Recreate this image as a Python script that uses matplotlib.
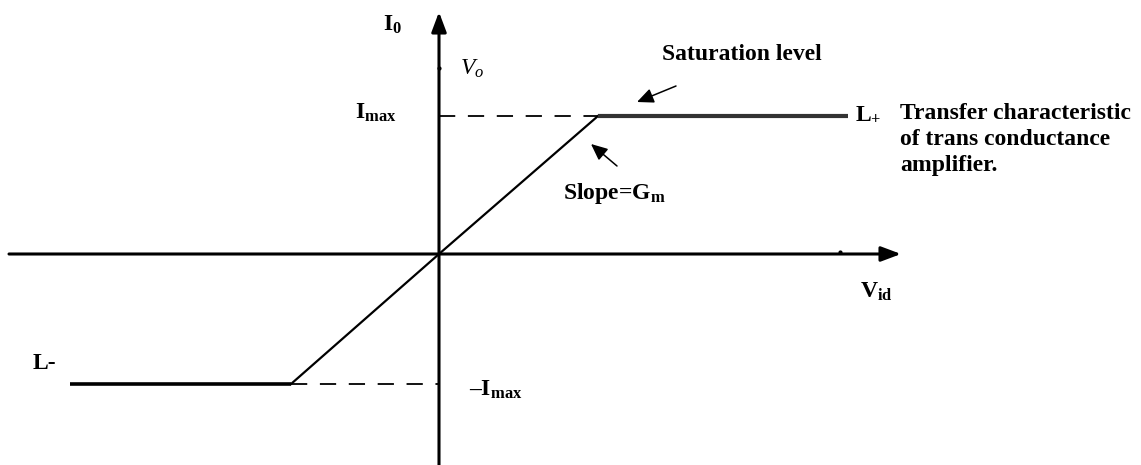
import matplotlib
matplotlib.use("Agg")
import matplotlib.pyplot as plt

# Transfer characteristic (data units ~ pixels relative to origin)
vid = [-369, -148, 0, 159, 409]
io = [-130, -130, 0, 138, 138]
i_max = 138
i_min = -130
v_corner_pos = 159
v_corner_neg = -148

plt.rcParams['mathtext.fontset'] = 'custom'
plt.rcParams['mathtext.rm'] = 'Liberation Serif:bold'
plt.rcParams['mathtext.bf'] = 'Liberation Serif:bold'
plt.rcParams['mathtext.it'] = 'Liberation Serif:italic'

fig = plt.figure(figsize=(11.41, 4.65), dpi=100)
ax = fig.add_axes([0, 0, 1, 1])
ax.set_xlim(-439, 702)
ax.set_ylim(-211, 254)
ax.axis('off')

serif = 'Liberation Serif'
FS = 17

# axes with arrows
ax.annotate('', xy=(462, 0), xytext=(-430, 0),
            arrowprops=dict(arrowstyle='-|>,head_length=1.2,head_width=0.45', lw=2.2, color='black',
                            shrinkA=0, shrinkB=0))
ax.annotate('', xy=(0, 242), xytext=(0, -215),
            arrowprops=dict(arrowstyle='-|>,head_length=1.2,head_width=0.45', lw=2.2, color='black',
                            shrinkA=0, shrinkB=0))

# characteristic
ax.plot(vid[:2], io[:2], color='black', lw=2.6, solid_capstyle='butt')
ax.plot(vid[1:4], io[1:4], color='black', lw=1.6)
ax.plot(vid[3:], io[3:], color='#333333', lw=3.0, solid_capstyle='butt')

# dashed guides
ax.plot([0, v_corner_pos], [i_max, i_max], color='black', lw=1.3, dashes=(9, 7))
ax.plot([v_corner_neg, 0], [i_min, i_min], color='black', lw=1.3, dashes=(9, 7))

# small tick dots
ax.plot([0], [186], marker='o', ms=2, color='black')
ax.plot([401], [2], marker='o', ms=2, color='black')

# labels
ax.text(-56, 229, r'I$_{\mathrm{0}}$', fontsize=FS, fontfamily=serif, fontweight='bold', va='center', ha='left')
ax.text(21, 186, r'$V_o$', fontsize=FS, va='center', ha='left')
ax.text(-42, 141, r'I$_{\mathrm{max}}$', fontsize=FS, fontfamily=serif, fontweight='bold', va='center', ha='right')
ax.text(30, -136, r'–I$_{\mathrm{max}}$', fontsize=FS, fontfamily=serif, fontweight='bold', va='center', ha='left')
ax.text(-406, -109, 'L-', fontsize=FS, fontfamily=serif, fontweight='bold', va='center', ha='left')
ax.text(416, 140, r'L$_{+}$', fontsize=FS, fontfamily=serif, fontweight='bold', va='center', ha='left')
ax.text(421, -38, r'V$_{\mathrm{id}}$', fontsize=FS, fontfamily=serif, fontweight='bold', va='center', ha='left')
ax.text(223, 199, 'Saturation level', fontsize=FS, fontfamily=serif, fontweight='bold', va='center', ha='left')
ax.text(124, 61, r'Slope=G$_{\mathrm{m}}$', fontsize=FS, fontfamily=serif, fontweight='bold', va='center', ha='left')
ax.text(461, 151, 'Transfer characteristic\nof trans conductance\namplifier.', fontsize=FS,
        fontfamily=serif, fontweight='bold', va='top', ha='left', linespacing=1.32)

# annotation arrows
ax.annotate('', xy=(198, 152), xytext=(237, 168),
            arrowprops=dict(arrowstyle='-|>,head_length=1.0,head_width=0.45', lw=1.1, color='black',
                            shrinkA=0, shrinkB=0))
ax.annotate('', xy=(152, 110), xytext=(178, 88),
            arrowprops=dict(arrowstyle='-|>,head_length=1.0,head_width=0.45', lw=1.1, color='black',
                            shrinkA=0, shrinkB=0))

fig.savefig('out.png', dpi=100)
